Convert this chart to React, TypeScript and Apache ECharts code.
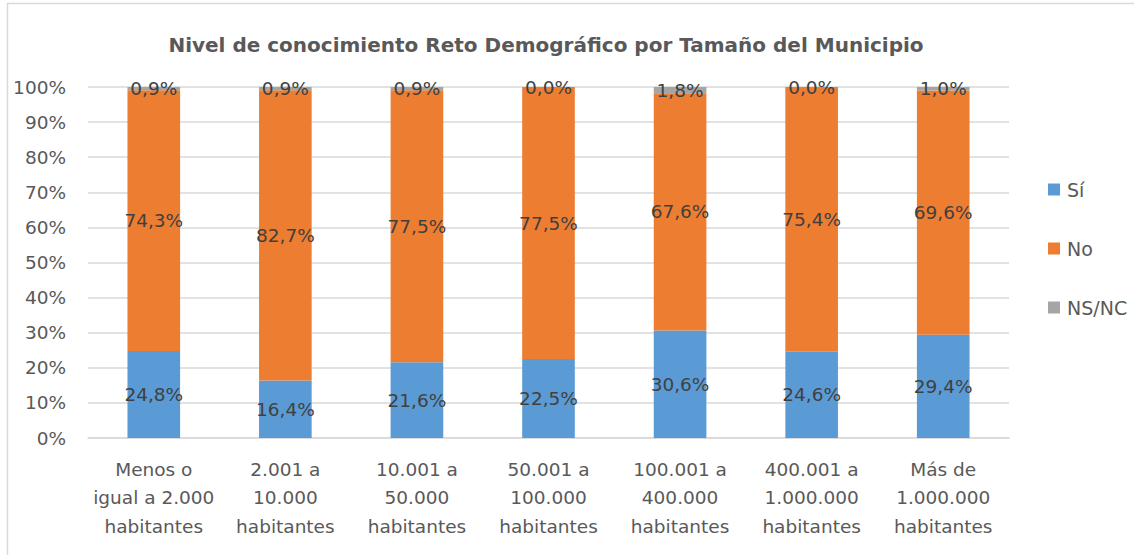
import React, { useEffect, useRef } from "react";
import * as echarts from "echarts";

const categories = [
  "Menos o\nigual a 2.000\nhabitantes",
  "2.001 a\n10.000\nhabitantes",
  "10.001 a\n50.000\nhabitantes",
  "50.001 a\n100.000\nhabitantes",
  "100.001 a\n400.000\nhabitantes",
  "400.001 a\n1.000.000\nhabitantes",
  "Más de\n1.000.000\nhabitantes",
];
const si = [24.8, 16.4, 21.6, 22.5, 30.6, 24.6, 29.4];
const no = [74.3, 82.7, 77.5, 77.5, 67.6, 75.4, 69.6];
const nsnc = [0.9, 0.9, 0.9, 0.0, 1.8, 0.0, 1.0];

const FONT = "'DejaVu Sans', sans-serif";
const fmt = (v: number) => v.toFixed(1).replace(".", ",") + "%";

export default function App() {
  const ref = useRef<HTMLDivElement>(null);
  useEffect(() => {
    if (!ref.current) return;
    const chart = echarts.init(ref.current, undefined, { renderer: "svg" });
    const label = {
      show: true,
      position: "inside" as const,
      color: "#404040",
      fontSize: 18.5,
      fontFamily: FONT,
      formatter: (p: any) => fmt(p.value),
    };
    const mk = (name: string, data: number[], color: string) => ({
      name,
      type: "bar",
      stack: "total",
      data,
      barCategoryGap: "60%",
      itemStyle: { color },
      label,
    });
    chart.setOption({
      animation: false,
      title: {
        text: "Nivel de conocimiento Reto Demográfico por Tamaño del Municipio",
        left: 541,
        textAlign: "center",
        top: 30,
        textStyle: { fontFamily: FONT, fontSize: 20, fontWeight: "bold", color: "#595959" },
      },
      graphic: [
        {
          type: "rect",
          shape: { x: 7.5, y: 3.5, width: 1200, height: 600 },
          style: { fill: "none", stroke: "#d9d9d9", lineWidth: 1.5 },
          silent: true,
        },
      ],
      legend: {
        orient: "vertical",
        left: 1043,
        top: 175,
        itemGap: 40,
        itemWidth: 12,
        itemHeight: 12,
        icon: "rect",
        textStyle: { fontFamily: FONT, fontSize: 19, color: "#595959", padding: [0, 0, 0, 2] },
        data: ["Sí", "No", "NS/NC"],
      },
      grid: { left: 88, right: 125, top: 87, bottom: 117, containLabel: false },
      xAxis: {
        type: "category",
        data: categories,
        axisLine: { lineStyle: { color: "#d9d9d9", width: 1.5 } },
        axisTick: { show: false },
        axisLabel: {
          fontFamily: FONT,
          fontSize: 18.5,
          color: "#595959",
          lineHeight: 28.5,
          margin: 17,
          interval: 0,
        },
      },
      yAxis: {
        type: "value",
        min: 0,
        max: 100,
        interval: 10,
        axisLine: { show: false },
        axisTick: { show: false },
        splitLine: { lineStyle: { color: "#d9d9d9", width: 1.5 } },
        axisLabel: {
          fontFamily: FONT,
          fontSize: 18.5,
          color: "#595959",
          margin: 22,
          formatter: "{value}%",
        },
      },
      series: [mk("Sí", si, "#5B9BD5"), mk("No", no, "#ED7D31"), mk("NS/NC", nsnc, "#A5A5A5")],
    });
    return () => chart.dispose();
  }, []);
  return <div ref={ref} style={{ width: 1134, height: 555, position: "absolute", left: 0, top: 0 }} />;
}
